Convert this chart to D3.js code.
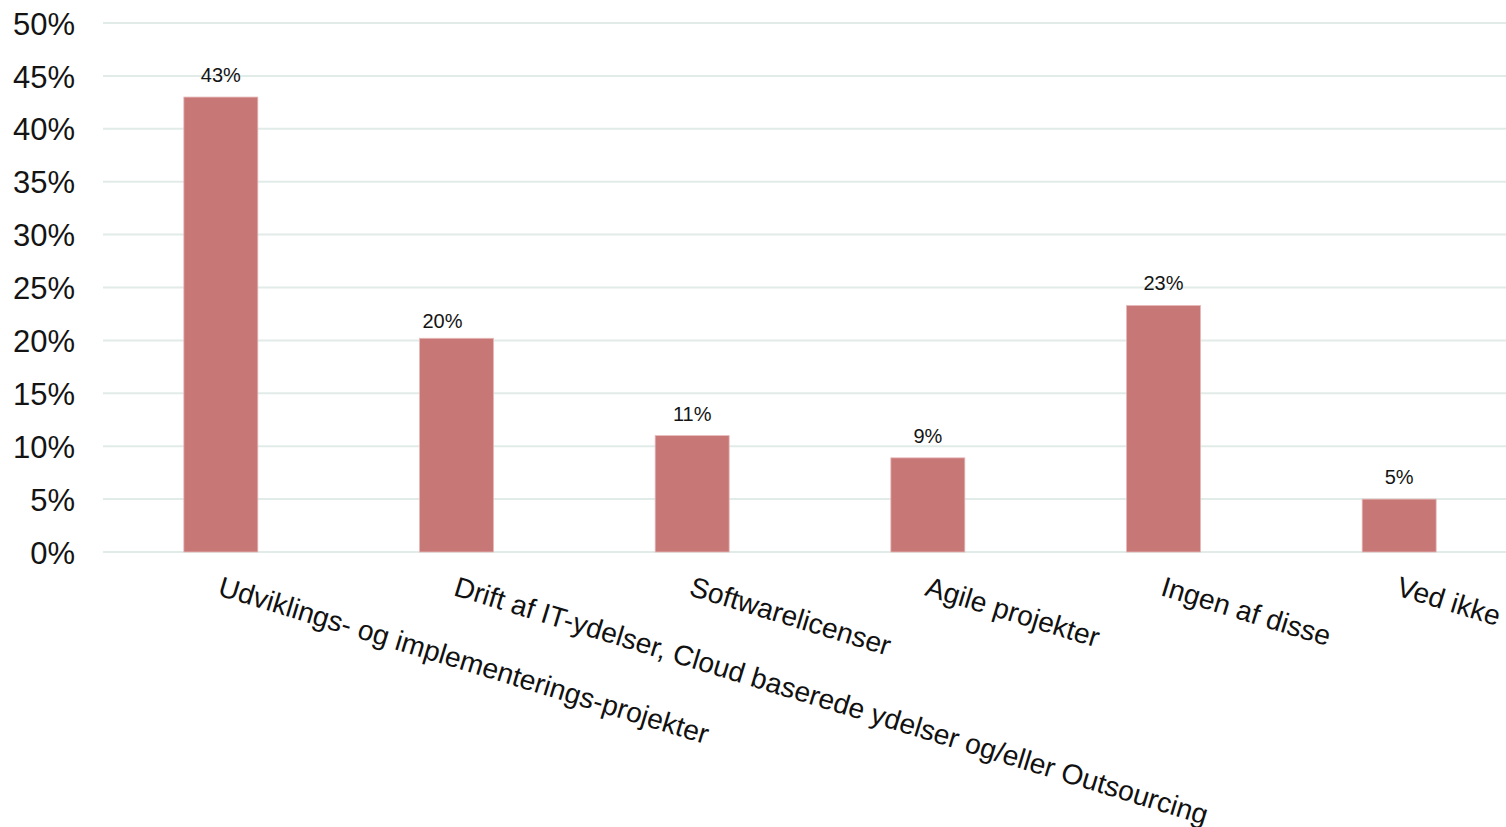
<!DOCTYPE html>
<html><head><meta charset="utf-8">
<script src="https://cdn.jsdelivr.net/npm/d3@7"></script>
<style>body{margin:0;background:#fff}svg{display:block}text{font-family:"Liberation Sans",Arial,sans-serif}</style>
</head><body><svg id="c" width="1506" height="827"></svg>
<script>
const categories = ["Udviklings- og implementerings-projekter","Drift af IT-ydelser, Cloud baserede ydelser og/eller Outsourcing","Softwarelicenser","Agile projekter","Ingen af disse","Ved ikke"];
const values = [43.0, 20.2, 11.0, 8.9, 23.3, 5.0];
const valueLabels = ["43%","20%","11%","9%","23%","5%"];
const yTicks = [0,5,10,15,20,25,30,35,40,45,50];

(function(){
const svg = d3.select("#c");
const mLeft = 103, mRight = 1517, mTop = 23, mBottom = 552;
const x = d3.scaleBand().domain(categories).range([mLeft, mRight]).paddingInner(0.686).paddingOuter(0.343);
const y = d3.scaleLinear().domain([0,50]).range([mBottom, mTop]);
const nudge = (i) => i === 1 ? {dx: -14, dy: 5} : {dx: 0, dy: 0};

svg.append("g").selectAll("line").data(yTicks).join("line")
  .attr("x1", mLeft).attr("x2", 1506)
  .attr("y1", d => y(d)).attr("y2", d => y(d))
  .attr("stroke", "#e1ece9").attr("stroke-width", 2);

const yAxis = svg.append("g").attr("transform", `translate(${mLeft-28},0)`)
  .call(d3.axisLeft(y).tickValues(yTicks).tickFormat(d => d + "%").tickSize(0).tickPadding(0));
yAxis.select(".domain").remove();
yAxis.selectAll("text").attr("font-size", 31).attr("fill", "#141414")
  .attr("font-family", "'Liberation Sans', Arial, sans-serif").attr("dy", "0.36em");

svg.append("g").selectAll("rect").data(values).join("rect")
  .attr("x", (d,i) => x(categories[i]))
  .attr("width", x.bandwidth())
  .attr("y", d => y(d))
  .attr("height", d => y(0) - y(d))
  .attr("fill", "#c87777")
  .attr("stroke", "#e6b9b9").attr("stroke-width", 0.8);

svg.append("g").selectAll("text").data(values).join("text")
  .attr("x", (d,i) => x(categories[i]) + x.bandwidth()/2 + nudge(i).dx)
  .attr("y", d => y(d) - 15)
  .attr("dy", (d,i) => nudge(i).dy)
  .attr("text-anchor", "middle")
  .attr("font-size", 20).attr("fill", "#141414")
  .text((d,i) => valueLabels[i]);

svg.append("g").selectAll("text").data(categories).join("text")
  .attr("transform", d => `translate(${x(d) + x.bandwidth()/2 + 2},575) rotate(17)`)
  .attr("dominant-baseline", "hanging")
  .attr("text-anchor", "start")
  .attr("font-size", 28.2).attr("fill", "#111")
  .text(d => d);
})();
</script></body></html>
